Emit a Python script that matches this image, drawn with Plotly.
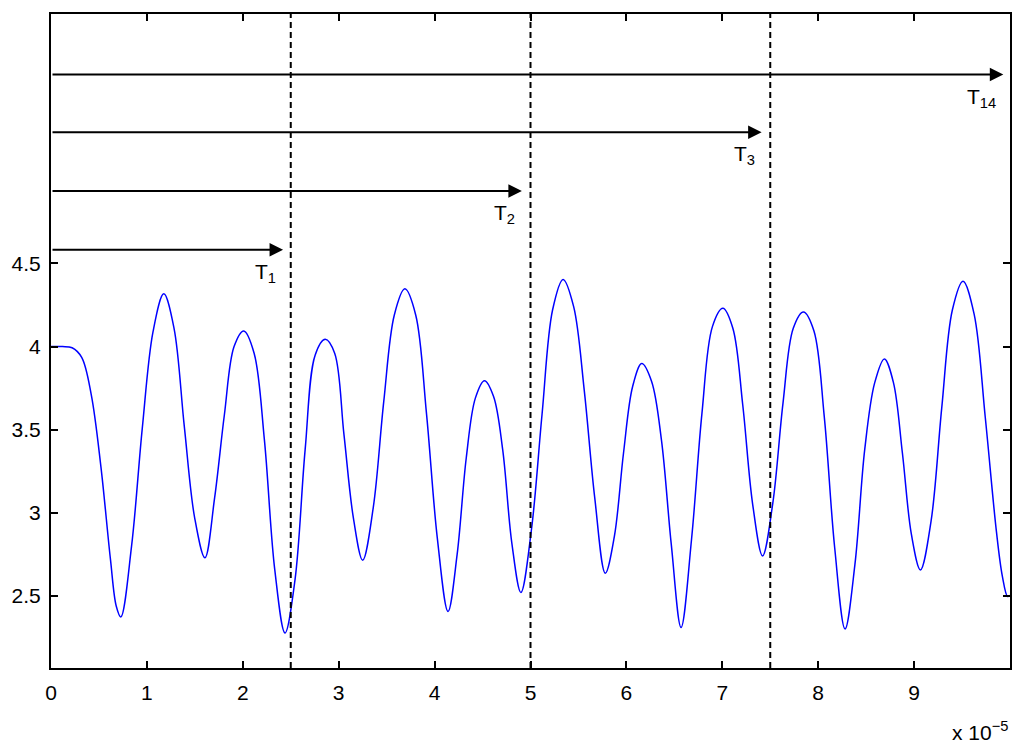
import plotly.graph_objects as go

# time axis in units of 1e-5 s
t_vals = [0.00, 0.12, 0.22, 0.32, 0.42, 0.52, 0.62, 0.68,
          0.728, 0.840, 0.952, 1.064,
          1.176, 1.283, 1.390, 1.498,
          1.605, 1.706, 1.808, 1.909,
          2.010, 2.118, 2.225, 2.333,
          2.440, 2.545, 2.650, 2.755,
          2.860, 2.958, 3.055, 3.153,
          3.250, 3.360, 3.470, 3.580,
          3.690, 3.803, 3.915, 4.028,
          4.140, 4.235, 4.330, 4.425,
          4.520, 4.615, 4.710, 4.805,
          4.900, 5.010, 5.120, 5.230,
          5.340, 5.450, 5.560, 5.670,
          5.780, 5.875, 5.970, 6.065,
          6.160, 6.263, 6.365, 6.468,
          6.570, 6.679, 6.788, 6.897,
          7.006, 7.110, 7.213, 7.317,
          7.420, 7.527, 7.633, 7.740,
          7.846, 7.955, 8.063, 8.172,
          8.280, 8.383, 8.485, 8.588,
          8.690, 8.784, 8.878, 8.972,
          9.066, 9.177, 9.288, 9.399,
          9.510, 9.626, 9.742, 9.858,
          9.920, 9.975, 10.0]
signal_vals = [4.000, 4.000, 3.993, 3.935, 3.710, 3.280, 2.720, 2.440,
               2.374, 2.80, 3.51, 4.09,
               4.317, 4.11, 3.52, 2.97,
               2.730, 3.09, 3.59, 4.00,
               4.094, 3.96, 3.44, 2.66,
               2.278, 2.60, 3.38, 3.95,
               4.044, 3.96, 3.47, 2.97,
               2.715, 3.03, 3.67, 4.19,
               4.347, 4.19, 3.60, 2.85,
               2.407, 2.75, 3.33, 3.69,
               3.795, 3.70, 3.38, 2.82,
               2.521, 2.90, 3.59, 4.22,
               4.404, 4.24, 3.74, 3.09,
               2.637, 2.86, 3.36, 3.76,
               3.898, 3.79, 3.44, 2.81,
               2.311, 2.84, 3.60, 4.12,
               4.230, 4.11, 3.65, 3.05,
               2.741, 3.06, 3.66, 4.11,
               4.208, 4.095, 3.58, 2.79,
               2.302, 2.69, 3.38, 3.78,
               3.926, 3.785, 3.36, 2.87,
               2.657, 2.95, 3.63, 4.22,
               4.393, 4.195, 3.575, 2.89,
               2.62, 2.497, 2.505]

# dashed period boundaries
boundaries = [2.5, 5.0, 7.5]

# arrows: label, height, tip position
arrow_labels = ['T<sub>1</sub>', 'T<sub>2</sub>', 'T<sub>3</sub>', 'T<sub>14</sub>']
arrow_y = [4.582, 4.935, 5.289, 5.636]
arrow_end = [2.42, 4.91, 7.41, 9.93]

x_ticks = [0, 1, 2, 3, 4, 5, 6, 7, 8, 9]
y_ticks = [2.5, 3, 3.5, 4, 4.5]

font_name = 'Liberation Sans, Arial, Helvetica, sans-serif'

fig = go.Figure(go.Scatter(
    x=t_vals,
    y=signal_vals,
    mode='lines',
    line=dict(color='#0000ff', width=1.5, shape='spline', smoothing=1.0),
    showlegend=False
))

for b in boundaries:
    fig.add_shape(type='line', x0=b, x1=b, y0=0, y1=1, xref='x', yref='paper',
                  line=dict(color='black', width=2, dash='6px,4px'))

for lab, yy, xe in zip(arrow_labels, arrow_y, arrow_end):
    fig.add_annotation(x=xe, y=yy, ax=0, ay=yy, xref='x', yref='y', axref='x', ayref='y',
                       text='', showarrow=True, arrowhead=2, arrowsize=1.35,
                       arrowwidth=2, arrowcolor='black')
    fig.add_annotation(x=xe, y=yy, xref='x', yref='y', text=lab, showarrow=False,
                       xanchor='right', yanchor='top', xshift=-5, yshift=-8,
                       font=dict(size=21, color='black', family=font_name))

fig.add_annotation(x=1, y=-0.074, xref='paper', yref='paper',
                   text='x 10<sup>\u22125</sup>', showarrow=False,
                   xanchor='right', yanchor='top',
                   font=dict(size=21, color='black', family=font_name))

axis_style = dict(showline=True, linecolor='black', linewidth=2, mirror='ticks',
                  ticks='inside', ticklen=7, tickwidth=1.5, tickcolor='black',
                  showgrid=False, zeroline=False,
                  tickfont=dict(size=21, color='black', family=font_name))

fig.update_xaxes(range=[0, 10], tickvals=x_ticks, ticklabelstandoff=5, **axis_style)
fig.update_yaxes(range=[2.067, 6.0], tickvals=y_ticks, ticklabelstandoff=4, **axis_style)

# page body adds an 8px margin, so the figure is kept 16px smaller
fig.update_layout(
    width=1008, height=737,
    margin=dict(l=43, r=4, t=4, b=77),
    plot_bgcolor='white',
    paper_bgcolor='white',
    font=dict(family=font_name, color='black')
)

fig.write_html("out.html")
